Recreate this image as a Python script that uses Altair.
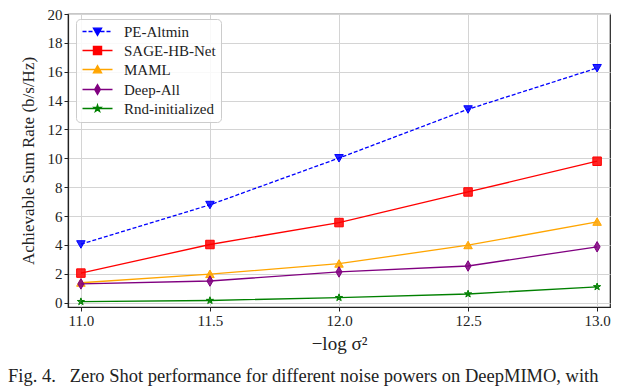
import altair as alt
import pandas as pd

# ---------------- data ----------------
x_vals = [11.0, 11.5, 12.0, 12.5, 13.0]
series_names = ["PE-Altmin", "SAGE-HB-Net", "MAML", "Deep-All", "Rnd-initialized"]
pe_altmin = [4.05, 6.78, 10.02, 13.40, 16.26]
sage_hb_net = [2.05, 4.03, 5.55, 7.67, 9.80]
maml = [1.38, 1.98, 2.70, 3.98, 5.60]
deep_all = [1.30, 1.50, 2.13, 2.54, 3.87]
rnd_initialized = [0.07, 0.15, 0.35, 0.60, 1.10]
series_values = [pe_altmin, sage_hb_net, maml, deep_all, rnd_initialized]

x_ticks = [11.0, 11.5, 12.0, 12.5, 13.0]
y_ticks = [0, 2, 4, 6, 8, 10, 12, 14, 16, 18, 20]
x_title = "\u2212log \u03c3\u00b2"
y_title = "Achievable Sum Rate (b/s/Hz)"
caption = "Fig. 4.\u00a0\u00a0\u00a0Zero Shot performance for different noise powers on DeepMIMO, with"

# ---------------- styles ----------------
colors = ["#0000ff", "#ff0000", "#ffa500", "#800080", "#008000"]
dashes = [[4, 2], None, None, None, None]
FONT = "Liberation Serif"
TXT = "#222222"

star = [(0, -1), (0.223, -0.307), (0.951, -0.309), (0.361, 0.117), (0.588, 0.809),
        (0, 0.38), (-0.588, 0.809), (-0.361, 0.117), (-0.951, -0.309), (-0.223, -0.307)]
marker_pts = [
    [(-0.85, -0.7), (0.85, -0.7), (0, 0.8)],                        # triangle down
    [(-0.85, -0.85), (0.85, -0.85), (0.85, 0.85), (-0.85, 0.85)],   # square
    [(-0.85, 0.7), (0.85, 0.7), (0, -0.8)],                         # triangle up
    [(0, -1.05), (0.6, 0), (0, 1.05), (-0.6, 0)],                   # thin diamond
    [(x * 0.75, y * 0.75) for x, y in star],                        # star
]


def poly(pts, s=1.0, dx=0.0):
    return "M" + "L".join(f"{x * s + dx:.3f},{y * s:.3f}" for x, y in pts) + "Z"


marker_paths = [poly(p) for p in marker_pts]

legend_paths = []
for i, p in enumerate(marker_pts):
    if dashes[i]:
        line = "".join(f"M{a:.2f},0L{a + 0.67:.2f},0" for a in [-1, 0, 1, 2, 3])
    else:
        line = "M-1,0L4,0"
    legend_paths.append(line + poly(p, s=0.8, dx=1.5))

# ---------------- charts ----------------
x_scale = alt.Scale(domain=[10.95, 13.05], nice=False, zero=False)
y_scale = alt.Scale(domain=[-0.3, 20], nice=False, zero=False)
x_axis = alt.Axis(values=x_ticks, format=".1f", title=x_title)
y_axis = alt.Axis(values=y_ticks, format="d", title=y_title, labelOverlap=False)

layers = []
for i, (name, vals) in enumerate(zip(series_names, series_values)):
    d = pd.DataFrame({"x": x_vals, "y": vals})
    xe = alt.X("x:Q", scale=x_scale, axis=x_axis)
    ye = alt.Y("y:Q", scale=y_scale, axis=y_axis)
    line_kw = dict(color=colors[i], strokeWidth=1.3, clip=True)
    if dashes[i]:
        line_kw["strokeDash"] = dashes[i]
    ln = alt.Chart(d).mark_line(**line_kw).encode(x=xe, y=ye, order="x:Q")
    pt = alt.Chart(d).mark_point(
        shape=marker_paths[i], size=100, filled=True, fill=colors[i], stroke=colors[i],
        fillOpacity=0.85, strokeWidth=1, opacity=1,
    ).encode(x=xe, y=ye)
    layers += [ln, pt]

leg_common = dict(title=None, orient="none", legendX=8, legendY=5)
legend_layer = alt.Chart(pd.DataFrame({"series": series_names})).transform_filter(
    "false"
).mark_point(size=144, opacity=1, filled=True, strokeWidth=1.3).encode(
    color=alt.Color("series:N", scale=alt.Scale(domain=series_names, range=colors),
                    legend=alt.Legend(
                        **leg_common,
                        labelFont=FONT, labelFontSize=15, labelColor=TXT,
                        labelOffset=28, rowPadding=3, padding=5,
                        fillColor="rgba(255,255,255,0.85)", strokeColor="#cccccc",
                        cornerRadius=4, symbolSize=144, symbolStrokeWidth=1.3,
                        symbolOpacity=1,
                    )),
    stroke=alt.Stroke("series:N", scale=alt.Scale(domain=series_names, range=colors),
                      legend=alt.Legend(**leg_common)),
    shape=alt.Shape("series:N", scale=alt.Scale(domain=series_names, range=legend_paths),
                    legend=alt.Legend(**leg_common)),
)

cap = alt.Chart(pd.DataFrame({"t": [caption]})).mark_text(
    align="left", baseline="alphabetic", font=FONT, fontSize=18.5, color=TXT
).encode(x=alt.value(-60), y=alt.value(368), text="t:N")

chart = alt.layer(*layers, legend_layer, cap).properties(
    width=542, height=293,
    autosize=alt.AutoSizeParams(type="none"),
    padding={"left": 60, "top": 6, "right": 22, "bottom": 81},
).configure_view(
    stroke=TXT, strokeWidth=1.2
).configure_axis(
    labelFont=FONT, labelFontSize=15, labelColor=TXT,
    titleFont=FONT, titleFontSize=17, titleColor=TXT, titleFontWeight="normal",
    domainColor=TXT, domainWidth=1.2, tickColor=TXT, tickSize=4, tickWidth=1,
    gridColor="#d4d4d4", gridWidth=1, labelPadding=2,
).configure_axisX(
    titleFontSize=19, titlePadding=6, labelFlush=False,
).configure_axisY(
    titlePadding=10, labelFlush=False,
)

chart.save("out.html", embed_options={"renderer": "svg", "actions": False})
